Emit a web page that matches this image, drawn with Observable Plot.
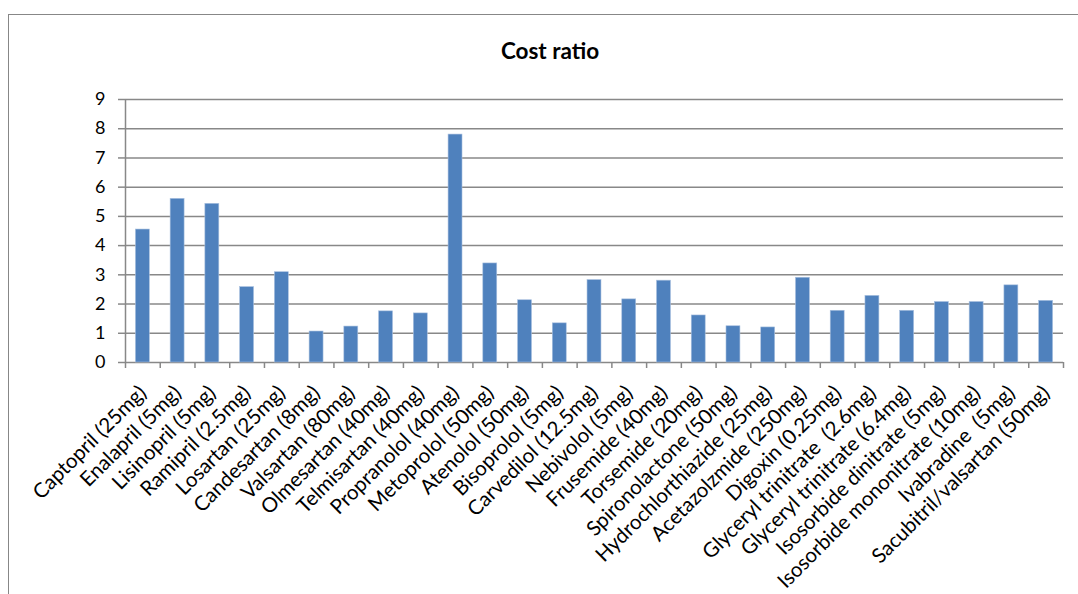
<!DOCTYPE html>
<html><head><meta charset="utf-8">
<script src="https://cdn.jsdelivr.net/npm/d3@7"></script>
<script src="https://cdn.jsdelivr.net/npm/@observablehq/plot@0.6"></script>
<style>
body{margin:0;background:#fff;}
#wrap{position:relative;width:1078px;height:594px;overflow:hidden;font-family:Lato,sans-serif;}
#border{position:absolute;left:8px;top:14px;width:1200px;height:800px;border:1.5px solid #878787;box-sizing:border-box;}
#title{position:absolute;left:400px;width:300px;top:37px;line-height:28px;text-align:center;font-weight:bold;font-size:22.5px;color:#000;}
#chart{position:absolute;left:0;top:0;}
</style>
</head><body>
<div id="wrap"><div id="border"></div><div id="title">Cost ratio</div><div id="chart"></div></div>
<script>
const cats = ["Captopril (25mg)","Enalapril (5mg)","Lisinopril (5mg)","Ramipril (2.5mg)","Losartan (25mg)","Candesartan (8mg)","Valsartan (80mg)","Olmesartan (40mg)","Telmisartan (40mg)","Propranolol (40mg)","Metoprolol (50mg)","Atenolol (50mg)","Bisoprolol (5mg)","Carvedilol (12.5mg)","Nebivolol (5mg)","Frusemide (40mg)","Torsemide (20mg)","Spironolactone (50mg)","Hydrochlorthiazide (25mg)","Acetazolzmide (250mg)","Digoxin (0.25mg)","Glyceryl trinitrate  (2.6mg)","Glyceryl trinitrate (6.4mg)","Isosorbide dinitrate (5mg)","Isosorbide mononitrate (10mg)","Ivabradine  (5mg)","Sacubitril/valsartan (50mg)"];
const values = [4.55,5.6,5.43,2.58,3.09,1.06,1.23,1.75,1.68,7.8,3.39,2.13,1.34,2.82,2.16,2.8,1.61,1.24,1.2,2.9,1.77,2.28,1.77,2.07,2.07,2.64,2.11];
const yTicks = [0,1,2,3,4,5,6,7,8,9];

const idx = d3.range(cats.length);
const chart = Plot.plot({
  width:1078, height:594,
  marginLeft:125, marginRight:15, marginTop:99, marginBottom:232,
  style:{fontFamily:"Lato, sans-serif", fontSize:"18px", background:"transparent", overflow:"visible", color:"#000"},
  x:{type:"linear", domain:[0,cats.length], axis:null},
  y:{domain:[0,9], axis:null},
  marks:[
    Plot.gridY(yTicks, {stroke:"#888", strokeOpacity:1, strokeWidth:1.5}),
    Plot.rectY(idx, {x1:i=>i, x2:i=>i+1, y1:0, y2:i=>values[i], fill:"#4F81BD", stroke:"#A9C0DF", strokeWidth:0.6, insetLeft:10.4, insetRight:10.4}),
    Plot.ruleX([0], {stroke:"#888", strokeWidth:1.5}),
    Plot.axisY({ticks:yTicks, tickSize:7, tickPadding:13, stroke:"#888", strokeWidth:1.5, fill:"#000", fontSize:18}),
    Plot.axisX({ticks:d3.range(cats.length+1), tickSize:6, tickFormat:()=>"", stroke:"#888", strokeWidth:1.5}),
    Plot.axisX({ticks:idx.map(i=>i+0.5), tickSize:0, tickPadding:27, dx:0, tickRotate:-45, tickFormat:v=>cats[Math.floor(v)], fill:"#000", fontSize:20.5})
  ]
});
document.getElementById("chart").appendChild(chart);
</script>
</body></html>
